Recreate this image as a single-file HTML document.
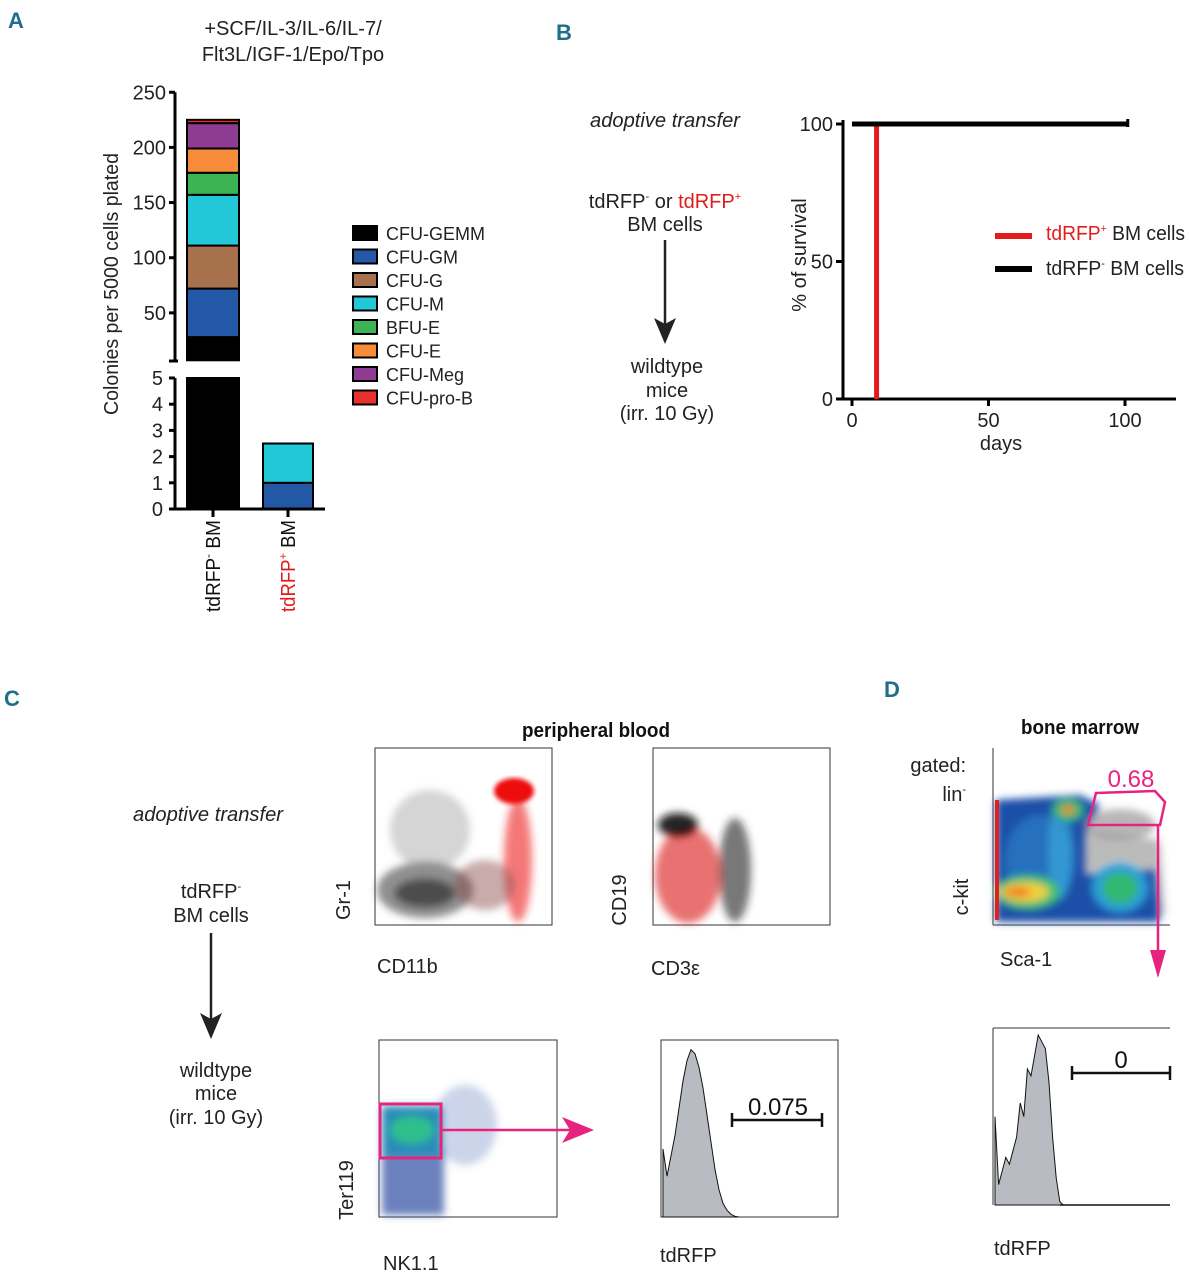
<!DOCTYPE html>
<html><head><meta charset="utf-8"><style>
body{margin:0;background:#fff}
svg{display:block;font-family:"Liberation Sans Narrow","Liberation Sans",sans-serif}
</style></head><body>
<svg id="fig" width="1189" height="1280" viewBox="0 0 1189 1280">
<defs>
<filter id="blur4"><feGaussianBlur stdDeviation="4"/></filter>
<filter id="blur2"><feGaussianBlur stdDeviation="2"/></filter>
</defs>
<text x="8" y="28" font-size="22" font-weight="bold" fill="#1d6f8a">A</text>
<text x="556" y="40" font-size="22" font-weight="bold" fill="#1d6f8a">B</text>
<text x="4" y="706" font-size="22" font-weight="bold" fill="#1d6f8a">C</text>
<text x="884" y="697" font-size="22" font-weight="bold" fill="#1d6f8a">D</text>

<g>
<text x="293" y="35" font-size="20" text-anchor="middle" fill="#222">+SCF/IL-3/IL-6/IL-7/</text>
<text x="293" y="61" font-size="20" text-anchor="middle" fill="#222">Flt3L/IGF-1/Epo/Tpo</text>
<text transform="translate(118,284) rotate(-90)" font-size="20" text-anchor="middle" textLength="262" lengthAdjust="spacingAndGlyphs" fill="#222">Colonies per 5000 cells plated</text>
<g id="aBars"></g>
<g id="aAxes"></g>
<text transform="translate(220,612) rotate(-90)" font-size="20" textLength="92" lengthAdjust="spacingAndGlyphs" fill="#111">tdRFP<tspan font-size="12" dy="-8">-</tspan><tspan dy="8"> BM</tspan></text>
<text transform="translate(295,612) rotate(-90)" font-size="20" textLength="92" lengthAdjust="spacingAndGlyphs" fill="#111"><tspan fill="#e31b1b">tdRFP</tspan><tspan font-size="12" dy="-8" fill="#e31b1b">+</tspan><tspan dy="8"> BM</tspan></text>
<g id="aLegend"></g>
</g>

<g>
<text x="665" y="127" font-size="20" font-style="italic" text-anchor="middle" textLength="150" lengthAdjust="spacingAndGlyphs" fill="#222">adoptive transfer</text>
<text x="665" y="208" font-size="20" text-anchor="middle" fill="#222">tdRFP<tspan font-size="11" dy="-8">-</tspan><tspan dy="8"> or </tspan><tspan fill="#e31b1b">tdRFP</tspan><tspan fill="#e31b1b" font-size="11" dy="-8">+</tspan></text>
<text x="665" y="231" font-size="20" text-anchor="middle" fill="#222">BM cells</text>
<line x1="665" y1="240" x2="665" y2="330" stroke="#222" stroke-width="2.5"/>
<path d="M654,318 L665,344 L676,318 L665,324z" fill="#222"/>
<text x="667" y="373" font-size="20" text-anchor="middle" fill="#222">wildtype</text>
<text x="667" y="397" font-size="20" text-anchor="middle" fill="#222">mice</text>
<text x="667" y="420" font-size="20" text-anchor="middle" fill="#222">(irr. 10 Gy)</text>
<text transform="translate(806,255) rotate(-90)" font-size="20" text-anchor="middle" fill="#222">% of survival</text>
<text x="1001" y="450" font-size="20" text-anchor="middle" fill="#222">days</text>
<g id="bAxes"></g>
<g id="bLines"></g>
<line x1="995" y1="236" x2="1032" y2="236" stroke="#e31b1b" stroke-width="6"/>
<text x="1046" y="240" font-size="20" textLength="139" lengthAdjust="spacingAndGlyphs" fill="#222"><tspan fill="#e31b1b">tdRFP</tspan><tspan fill="#e31b1b" font-size="11" dy="-8">+</tspan><tspan dy="8"> BM cells</tspan></text>
<line x1="995" y1="269" x2="1032" y2="269" stroke="#000" stroke-width="6"/>
<text x="1046" y="275" font-size="20" textLength="138" lengthAdjust="spacingAndGlyphs" fill="#222">tdRFP<tspan font-size="11" dy="-8">-</tspan><tspan dy="8"> BM cells</tspan></text>
</g>

<g>
<text x="596" y="737" font-size="20" font-weight="bold" text-anchor="middle" textLength="148" lengthAdjust="spacingAndGlyphs" fill="#111">peripheral blood</text>
<text x="208" y="821" font-size="20" font-style="italic" text-anchor="middle" textLength="150" lengthAdjust="spacingAndGlyphs" fill="#222">adoptive transfer</text>
<text x="211" y="898" font-size="20" text-anchor="middle" fill="#222">tdRFP<tspan font-size="11" dy="-8">-</tspan></text>
<text x="211" y="922" font-size="20" text-anchor="middle" fill="#222">BM cells</text>
<line x1="211" y1="933" x2="211" y2="1025" stroke="#222" stroke-width="2.5"/>
<path d="M200,1013 L211,1039 L222,1013 L211,1019z" fill="#222"/>
<text x="216" y="1077" font-size="20" text-anchor="middle" fill="#222">wildtype</text>
<text x="216" y="1100" font-size="20" text-anchor="middle" fill="#222">mice</text>
<text x="216" y="1124" font-size="20" text-anchor="middle" fill="#222">(irr. 10 Gy)</text>

<g>
<rect x="375" y="748" width="177" height="177" fill="#fff" stroke="#333"/>
<g filter="url(#blur4)">
<ellipse cx="425" cy="890" rx="48" ry="28" fill="#444" opacity="0.6"/>
<ellipse cx="425" cy="893" rx="30" ry="14" fill="#222" opacity="0.6"/>
<ellipse cx="430" cy="830" rx="40" ry="40" fill="#888" opacity="0.35"/>
<ellipse cx="518" cy="860" rx="14" ry="62" fill="#e22" opacity="0.6"/>
<ellipse cx="485" cy="885" rx="30" ry="25" fill="#844" opacity="0.45"/>
</g>
<ellipse cx="514" cy="791" rx="20" ry="13" fill="#e11" filter="url(#blur2)"/>
<text transform="translate(350,900) rotate(-90)" font-size="20" text-anchor="middle" fill="#222">Gr-1</text>
<text x="377" y="973" font-size="20" fill="#222">CD11b</text>
</g>
<g>
<rect x="653" y="748" width="177" height="177" fill="#fff" stroke="#333"/>
<g filter="url(#blur4)">
<ellipse cx="688" cy="875" rx="33" ry="48" fill="#d22" opacity="0.65"/>
<ellipse cx="678" cy="825" rx="20" ry="12" fill="#111" opacity="0.9"/>
<ellipse cx="735" cy="870" rx="16" ry="52" fill="#222" opacity="0.6"/>
</g>
<text transform="translate(626,900) rotate(-90)" font-size="20" text-anchor="middle" fill="#222">CD19</text>
<text x="651" y="975" font-size="20" fill="#222">CD3ε</text>
</g>
<g>
<rect x="379" y="1040" width="178" height="177" fill="#fff" stroke="#333"/>
<g filter="url(#blur4)">
<rect x="382" y="1150" width="62" height="65" fill="#3a55a8" opacity="0.75"/>
<ellipse cx="465" cy="1125" rx="32" ry="40" fill="#5570b8" opacity="0.3"/>
<rect x="382" y="1106" width="60" height="50" fill="#2a8cb8"/>
<ellipse cx="412" cy="1130" rx="22" ry="14" fill="#2fbf8a"/>
</g>
<rect x="380" y="1104" width="61" height="54" fill="none" stroke="#e8237f" stroke-width="3"/>
<line x1="441" y1="1130" x2="575" y2="1130" stroke="#e8237f" stroke-width="2.5"/>
<path d="M562,1117 L594,1130 L562,1143 L570,1130z" fill="#e8237f"/>
<text transform="translate(353,1190) rotate(-90)" font-size="20" text-anchor="middle" fill="#222">Ter119</text>
<text x="383" y="1270" font-size="20" fill="#222">NK1.1</text>
</g>
<g>
<rect x="661" y="1040" width="177" height="177" fill="#fff" stroke="#333"/>
<path id="histC" fill="#b8bcc2" stroke="#111" stroke-width="1"/>
<line x1="732" y1="1120" x2="822" y2="1120" stroke="#111" stroke-width="2.5"/>
<line x1="732" y1="1113" x2="732" y2="1127" stroke="#111" stroke-width="2.5"/>
<line x1="822" y1="1113" x2="822" y2="1127" stroke="#111" stroke-width="2.5"/>
<text x="778" y="1115" font-size="24" text-anchor="middle" fill="#111">0.075</text>
<text x="660" y="1262" font-size="20" fill="#222">tdRFP</text>
</g>
</g>

<g>
<text x="1080" y="734" font-size="20" font-weight="bold" text-anchor="middle" textLength="118" lengthAdjust="spacingAndGlyphs" fill="#111">bone marrow</text>
<text x="966" y="772" font-size="20" text-anchor="end" fill="#222">gated:</text>
<text x="966" y="801" font-size="20" text-anchor="end" fill="#222">lin<tspan font-size="11" dy="-8">-</tspan></text>
<g>
<rect x="993" y="748" width="177" height="177" fill="#fff"/>
<line x1="993" y1="748" x2="993" y2="925" stroke="#333"/>
<line x1="993" y1="925" x2="1170" y2="925" stroke="#333"/>
<g filter="url(#blur4)">
<path d="M1085,830 L1160,840 L1165,915 L1085,915z" fill="#555" opacity="0.4"/>
<path d="M996,800 L1080,795 L1100,805 L1085,835 L1085,875 L1155,870 L1160,922 L996,922z" fill="#1f4fa8"/>
<ellipse cx="1040" cy="860" rx="35" ry="45" fill="#2a7fc8" opacity="0.7"/>
<ellipse cx="1060" cy="850" rx="12" ry="50" fill="#38b0e0" opacity="0.6"/>
<ellipse cx="1028" cy="892" rx="32" ry="17" fill="#3fbf6f"/>
<ellipse cx="1025" cy="892" rx="24" ry="10" fill="#f0d040"/>
<ellipse cx="1018" cy="892" rx="13" ry="5" fill="#f08020"/>
<ellipse cx="1120" cy="888" rx="28" ry="24" fill="#2a9fd8"/>
<ellipse cx="1120" cy="888" rx="18" ry="16" fill="#30b870"/>
<ellipse cx="1068" cy="810" rx="16" ry="11" fill="#30b870"/>
<ellipse cx="1068" cy="810" rx="7" ry="4" fill="#f08020"/>
<ellipse cx="1120" cy="825" rx="35" ry="16" fill="#999" opacity="0.7"/>
</g>
<rect x="995" y="800" width="4" height="120" fill="#e02020"/>
<path d="M1096,793 L1155,791 L1165,802 L1160,825 L1088,825z" fill="none" stroke="#e8237f" stroke-width="2.5"/>
<line x1="1158" y1="825" x2="1158" y2="960" stroke="#e8237f" stroke-width="2.5"/>
<path d="M1150,950 L1158,978 L1166,950z" fill="#e8237f"/>
<text x="1131" y="787" font-size="24" text-anchor="middle" fill="#e8237f">0.68</text>
<text transform="translate(968,897) rotate(-90)" font-size="20" text-anchor="middle" fill="#222">c-kit</text>
<text x="1000" y="966" font-size="20" fill="#222">Sca-1</text>
</g>
<g>
<line x1="993" y1="1028" x2="1170" y2="1028" stroke="#333"/>
<line x1="993" y1="1028" x2="993" y2="1205" stroke="#333"/>
<path id="histD" fill="#b8bcc2" stroke="#111" stroke-width="1"/>
<line x1="1060" y1="1205" x2="1170" y2="1205" stroke="#111" stroke-width="1.5"/>
<line x1="1072" y1="1073" x2="1170" y2="1073" stroke="#111" stroke-width="2.5"/>
<line x1="1072" y1="1066" x2="1072" y2="1080" stroke="#111" stroke-width="2.5"/>
<line x1="1170" y1="1066" x2="1170" y2="1080" stroke="#111" stroke-width="2.5"/>
<text x="1121" y="1068" font-size="24" text-anchor="middle" fill="#111">0</text>
<text x="994" y="1255" font-size="20" fill="#222">tdRFP</text>
</g>
</g>
</svg>
<script>
const NS='http://www.w3.org/2000/svg';
function mk(tag,attrs,parent){const e=document.createElementNS(NS,tag);for(const k in attrs)e.setAttribute(k,attrs[k]);parent.appendChild(e);return e;}

// ---------- Panel A data ----------
const aCategories=['CFU-GEMM','CFU-GM','CFU-G','CFU-M','BFU-E','CFU-E','CFU-Meg','CFU-pro-B'];
const aColors=['#000000','#2358a6','#a8714d','#22c8d8','#3cb454','#f78c3a','#8e3c92','#e8302c'];
const aNegValues=[28,44,39,46,20,22,23,3];
const aPosValues=[0,1,0,1.5,0,0,0,0];
const aUpperTicks=[50,100,150,200,250];
const aLowerTicks=[0,1,2,3,4,5];
const yUp=v=>368-(v)*1.103;
const yLo=v=>509-v*26.2;
const aB=document.getElementById('aBars'), aA=document.getElementById('aAxes');
function drawStack(vals,x0,w,name){
  let cum=0;
  vals.forEach((v,i)=>{
    if(v<=0)return;
    const a=cum,b=cum+v;cum=b;
    const la=Math.min(a,5),lb=Math.min(b,5);
    if(lb>la){const r=mk('rect',{x:x0,y:yLo(lb),width:w,height:yLo(la)-yLo(lb),fill:aColors[i],stroke:'#000','stroke-width':2},aB);
      
      }
    const ua=Math.max(a,7),ub=Math.max(b,7);
    if(ub>ua){const r=mk('rect',{x:x0,y:yUp(ub),width:w,height:yUp(ua)-yUp(ub),fill:aColors[i],stroke:'#000','stroke-width':2},aB);
      
      }
  });
}
drawStack(aNegValues,187,52,'bar-neg');
drawStack(aPosValues,263,50,'bar-pos');
mk('line',{x1:175,y1:yUp(250),x2:175,y2:361,stroke:'#000','stroke-width':3},aA);
mk('line',{x1:169,y1:361,x2:178,y2:361,stroke:'#000','stroke-width':3},aA);
mk('line',{x1:175,y1:yLo(5),x2:175,y2:509,stroke:'#000','stroke-width':3},aA);
mk('line',{x1:175,y1:509,x2:325,y2:509,stroke:'#000','stroke-width':3},aA);
[213,288].forEach(x=>mk('line',{x1:x,y1:509,x2:x,y2:517,stroke:'#000','stroke-width':3},aA));
aUpperTicks.forEach(t=>{mk('line',{x1:169,y1:yUp(t),x2:175,y2:yUp(t),stroke:'#000','stroke-width':3},aA);
  const tx=mk('text',{x:166,y:yUp(t)+7,'font-size':20,'text-anchor':'end',fill:'#222'},aA);tx.textContent=t;
  
  });
aLowerTicks.forEach(t=>{mk('line',{x1:169,y1:yLo(t),x2:175,y2:yLo(t),stroke:'#000','stroke-width':3},aA);
  const tx=mk('text',{x:163,y:yLo(t)+7,'font-size':20,'text-anchor':'end',fill:'#222'},aA);tx.textContent=t;
  
  });
const aL=document.getElementById('aLegend');
aCategories.forEach((c,i)=>{const y=226+i*23.5;
  mk('rect',{x:353,y:y,width:24,height:14,fill:aColors[i],stroke:'#000','stroke-width':2},aL);
  const t=mk('text',{x:386,y:y+14,'font-size':18,fill:'#222'},aL);t.textContent=c;
  
  });

// ---------- Panel B data ----------
const bXTicks=[0,50,100];
const bYTicks=[0,50,100];
const bPosDays=[0,9,9];
const bPosSurv=[100,100,0];
const bNegDays=[0,101];
const bNegSurv=[100,100];
const bx=d=>852+d*2.73, by=v=>399-v*2.75;
const bA=document.getElementById('bAxes'), bL=document.getElementById('bLines');
mk('line',{x1:843,y1:by(100)-4,x2:843,y2:399,stroke:'#000','stroke-width':3},bA);
mk('line',{x1:843,y1:399,x2:1176,y2:399,stroke:'#000','stroke-width':3},bA);
bXTicks.forEach(t=>{mk('line',{x1:bx(t),y1:399,x2:bx(t),y2:406,stroke:'#000','stroke-width':3},bA);
  const tx=mk('text',{x:bx(t),y:427,'font-size':20,'text-anchor':'middle',fill:'#222'},bA);tx.textContent=t;
  
  });
bYTicks.forEach(t=>{mk('line',{x1:836,y1:by(t),x2:843,y2:by(t),stroke:'#000','stroke-width':3},bA);
  const tx=mk('text',{x:833,y:by(t)+7,'font-size':20,'text-anchor':'end',fill:'#222'},bA);tx.textContent=t;
  
  });
function pl(xs,ys){return xs.map((d,i)=>(i?'L':'M')+bx(d)+','+by(ys[i])).join(' ');}
const pp=mk('path',{d:pl(bPosDays,bPosSurv),fill:'none',stroke:'#e31b1b','stroke-width':5},bL);


const pn=mk('path',{d:pl(bNegDays,bNegSurv),fill:'none',stroke:'#000','stroke-width':5},bL);


mk('line',{x1:bx(bNegDays[1]),y1:by(100)-5,x2:bx(bNegDays[1]),y2:by(100)+3,stroke:'#000','stroke-width':3},bL);

// ---------- Histograms ----------
const histCCounts=[500,300,450,600,800,1000,1150,1230,1200,1100,950,750,550,350,200,100,50,20,5,0];
const histDCounts=[13,3,5,7,6,8,10,15,13,20,19,22,25,24,23,18,10,4,0.5,0];
function histPath(counts,x0,step,y0,scale){
  let d='M'+x0+','+y0;
  counts.forEach((c,i)=>{d+=' L'+(x0+i*step)+','+(y0-c*scale);});
  d+=' L'+(x0+(counts.length-1)*step)+','+y0+'Z';return d;}
const hc=document.getElementById('histC');
hc.setAttribute('d',histPath(histCCounts,663,4,1217,0.136));


const hd=document.getElementById('histD');
hd.setAttribute('d',histPath(histDCounts,995,3.6,1205,6.8));


</script>
</body></html>
